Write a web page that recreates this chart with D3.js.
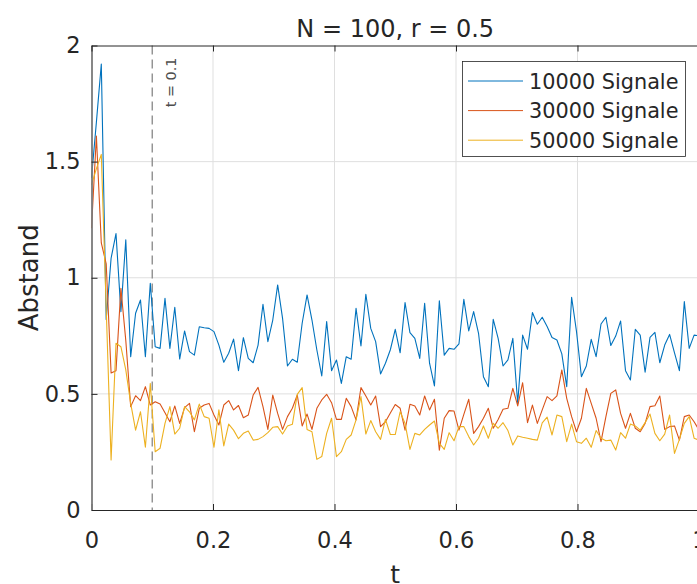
<!DOCTYPE html>
<html>
<head>
<meta charset="utf-8">
<script src="https://cdn.jsdelivr.net/npm/d3@7/dist/d3.min.js"></script>
<style>
  body { margin: 0; background: #fff; }
  svg text { font-family: "DejaVu Sans", sans-serif; fill: #262626; }
</style>
</head>
<body>
<div id="canvas"></div>
<script>
// chart data
var seriesNames = ["10000 Signale", "30000 Signale", "50000 Signale"];
var seriesColors = ["#0072BD", "#D95319", "#EDB120"];
var xTicks = [0, 0.2, 0.4, 0.6, 0.8, 1];
var yTicks = [0, 0.5, 1, 1.5, 2];
var markerT = 0.1;
var markerLabel = "t = 0.1";
var titleText = "N = 100, r = 0.5";

// sample times: 125 samples over t = 0..1
var tValues = d3.range(125).map(function(i) {
  return i / 124;
});

var signals10000 = [
  1.43, 1.67, 1.92, 0.82, 1.084, 1.19, 0.854, 1.163, 0.66, 0.847,
  0.904, 0.66, 0.976, 0.703, 0.696, 0.911, 0.696, 0.873, 0.65, 0.771,
  0.682, 0.667, 0.789, 0.785, 0.782, 0.768, 0.71, 0.636, 0.675, 0.736,
  0.6, 0.742, 0.653, 0.634, 0.71, 0.886, 0.725, 0.818, 0.969, 0.825,
  0.62, 0.649, 0.636, 0.804, 0.926, 0.818, 0.689, 0.577, 0.811, 0.6,
  0.646, 0.545, 0.66, 0.649, 0.868, 0.706, 0.929, 0.782, 0.725, 0.586,
  0.632, 0.69, 0.778, 0.677, 0.893, 0.764, 0.739, 0.653, 0.89, 0.632,
  0.534, 0.901, 0.667, 0.696, 0.692, 0.715, 0.907, 0.771, 0.854, 0.761,
  0.574, 0.531, 0.821, 0.739, 0.62, 0.646, 0.739, 0.459, 0.753, 0.692,
  0.85, 0.8, 0.83, 0.79, 0.743, 0.732, 0.672, 0.531, 0.916, 0.768,
  0.574, 0.62, 0.735, 0.66, 0.801, 0.83, 0.708, 0.749, 0.814, 0.6,
  0.56, 0.778, 0.753, 0.593, 0.743, 0.765, 0.634, 0.71, 0.756, 0.677,
  0.6, 0.897, 0.696, 0.753, 0.75
];

var signals30000 = [
  1.213, 1.61, 1.15, 1.06, 0.59, 0.6, 0.955, 0.73, 0.445, 0.492,
  0.471, 0.531, 0.452, 0.466, 0.456, 0.419, 0.38, 0.448, 0.373, 0.441,
  0.459, 0.337, 0.438, 0.452, 0.459, 0.409, 0.366, 0.452, 0.471, 0.431,
  0.45, 0.397, 0.409, 0.495, 0.528, 0.445, 0.347, 0.495, 0.416, 0.347,
  0.402, 0.438, 0.495, 0.362, 0.413, 0.347, 0.438, 0.474, 0.498, 0.462,
  0.39, 0.39, 0.481, 0.445, 0.388, 0.527, 0.491, 0.452, 0.491, 0.359,
  0.38, 0.418, 0.454, 0.438, 0.344, 0.455, 0.448, 0.409, 0.491, 0.431,
  0.477, 0.258, 0.395, 0.428, 0.426, 0.344, 0.412, 0.477, 0.33, 0.359,
  0.395, 0.438, 0.352, 0.39, 0.434, 0.438, 0.524, 0.448, 0.548, 0.376,
  0.452, 0.373, 0.431, 0.488, 0.471, 0.491, 0.603, 0.481, 0.402, 0.337,
  0.395, 0.524, 0.459, 0.395, 0.294, 0.402, 0.502, 0.517, 0.416, 0.352,
  0.416, 0.352, 0.337, 0.373, 0.445, 0.449, 0.491, 0.347, 0.359, 0.362,
  0.301, 0.402, 0.409, 0.38, 0.344
];

var signals50000 = [
  1.4, 1.47, 1.531, 0.87, 0.215, 0.718, 0.703, 0.603, 0.459, 0.344,
  0.423, 0.27, 0.545, 0.251, 0.266, 0.373, 0.445, 0.327, 0.352, 0.445,
  0.423, 0.388, 0.456, 0.402, 0.395, 0.27, 0.431, 0.276, 0.37, 0.344,
  0.307, 0.33, 0.34, 0.301, 0.304, 0.316, 0.333, 0.356, 0.359, 0.327,
  0.362, 0.369, 0.498, 0.527, 0.347, 0.337, 0.218, 0.23, 0.33, 0.395,
  0.23, 0.251, 0.304, 0.323, 0.388, 0.488, 0.327, 0.385, 0.337, 0.304,
  0.39, 0.325, 0.325, 0.423, 0.373, 0.261, 0.33, 0.323, 0.347, 0.366,
  0.383, 0.287, 0.261, 0.333, 0.298, 0.359, 0.359, 0.316, 0.28, 0.309,
  0.362, 0.309, 0.373, 0.352, 0.376, 0.342, 0.28, 0.319, 0.313, 0.309,
  0.304, 0.301, 0.375, 0.4, 0.323, 0.409, 0.402, 0.294, 0.37, 0.294,
  0.287, 0.309, 0.27, 0.342, 0.309, 0.298, 0.301, 0.258, 0.333, 0.309,
  0.37, 0.362, 0.344, 0.376, 0.413, 0.33, 0.298, 0.327, 0.409, 0.244,
  0.304, 0.373, 0.402, 0.309, 0.3
];

function run() {
  var width = 697,
    height = 584;
  var left = 91.5,
    right = 699,
    top = 45.5,
    bottom = 510;

  var svg = d3
    .select("#canvas")
    .append("svg")
    .attr("width", width)
    .attr("height", height);

  var x = d3.scaleLinear().domain([0, 1]).range([left, right]);
  var y = d3.scaleLinear().domain([0, 2]).range([bottom, top]);

  // grid
  var grid = svg.append("g").style("stroke", "#dfdfdf").style("stroke-width", 1);
  grid
    .selectAll("line.gx")
    .data(xTicks.filter(function(d) { return d > 0 && d < 1; }))
    .enter()
    .append("line")
    .attr("x1", function(d) { return x(d); })
    .attr("x2", function(d) { return x(d); })
    .attr("y1", top)
    .attr("y2", bottom);
  grid
    .selectAll("line.gy")
    .data(yTicks.filter(function(d) { return d > 0 && d < 2; }))
    .enter()
    .append("line")
    .attr("x1", left)
    .attr("x2", right)
    .attr("y1", function(d) { return y(d); })
    .attr("y2", function(d) { return y(d); });

  // t = 0.1 marker
  svg
    .append("line")
    .attr("x1", x(markerT))
    .attr("x2", x(markerT))
    .attr("y1", top)
    .attr("y2", bottom)
    .style("stroke", "#8f8f8f")
    .style("stroke-width", 1.4)
    .style("stroke-dasharray", "9,5");
  svg
    .append("text")
    .attr("transform", "translate(" + (x(markerT) + 24) + "," + (top + 12) + ") rotate(-90)")
    .attr("text-anchor", "end")
    .style("font-size", "14.4px")
    .style("fill", "#4d4d4d")
    .text(markerLabel);

  // lines
  var series = [signals10000, signals30000, signals50000];
  var line = d3
    .line()
    .x(function(d, i) { return x(tValues[i]); })
    .y(function(d) { return y(d); });

  svg
    .append("g")
    .selectAll("path")
    .data(series)
    .enter()
    .append("path")
    .attr("d", line)
    .style("fill", "none")
    .style("stroke", function(d, i) { return seriesColors[i]; })
    .style("stroke-width", 1.1)
    .style("stroke-linejoin", "round");

  // axes
  var xAxis = svg
    .append("g")
    .attr("transform", "translate(0," + bottom + ")")
    .call(d3.axisBottom(x).tickValues(xTicks).tickFormat(d3.format("")).tickSizeInner(-6).tickSizeOuter(0).tickPadding(22));
  var yAxis = svg
    .append("g")
    .attr("transform", "translate(" + left + ",0)")
    .call(d3.axisLeft(y).tickValues(yTicks).tickFormat(d3.format("")).tickSizeInner(-6).tickSizeOuter(0).tickPadding(11));
  var xTop = svg
    .append("g")
    .attr("transform", "translate(0," + top + ")")
    .call(d3.axisTop(x).tickValues(xTicks).tickFormat("").tickSizeInner(-6).tickSizeOuter(0));

  [xAxis, yAxis, xTop].forEach(function(a) {
    a.selectAll("path").style("stroke", "#262626").style("stroke-width", 1);
    a.selectAll("line").style("stroke", "#262626").style("stroke-width", 1);
    a.selectAll("text").style("font-size", "22.5px").style("fill", "#262626").attr("font-family", null);
  });
  yAxis.select("path").style("stroke", "#7a7a7a").style("stroke-width", 1.8);

  // title and labels
  svg
    .append("text")
    .attr("x", (left + right) / 2)
    .attr("y", 37)
    .attr("text-anchor", "middle")
    .style("font-size", "24px")
    .text(titleText);

  svg
    .append("text")
    .attr("x", (left + right) / 2)
    .attr("y", 583)
    .attr("text-anchor", "middle")
    .style("font-size", "25px")
    .text("t");

  svg
    .append("text")
    .attr("transform", "translate(38," + (top + bottom) / 2 + ") rotate(-90)")
    .attr("text-anchor", "middle")
    .style("font-size", "26px")
    .text("Abstand");

  // legend
  var legend = svg.append("g");
  legend
    .append("rect")
    .attr("x", 462.5)
    .attr("y", 61.5)
    .attr("width", 223)
    .attr("height", 95)
    .style("fill", "#fff")
    .style("stroke", "#262626")
    .style("stroke-width", 0.8);

  var rows = legend
    .selectAll("g.row")
    .data(seriesNames)
    .enter()
    .append("g")
    .attr("transform", function(d, i) { return "translate(0," + (81 + i * 29.6) + ")"; });
  rows
    .append("line")
    .attr("x1", 468)
    .attr("x2", 523)
    .style("stroke", function(d, i) { return seriesColors[i]; })
    .style("stroke-width", 1);
  rows
    .append("text")
    .attr("x", 529)
    .attr("dy", "0.36em")
    .style("font-size", "20.8px")
    .text(function(d) { return d; });
}

(function() {
  run();
})();
</script>
</body>
</html>
